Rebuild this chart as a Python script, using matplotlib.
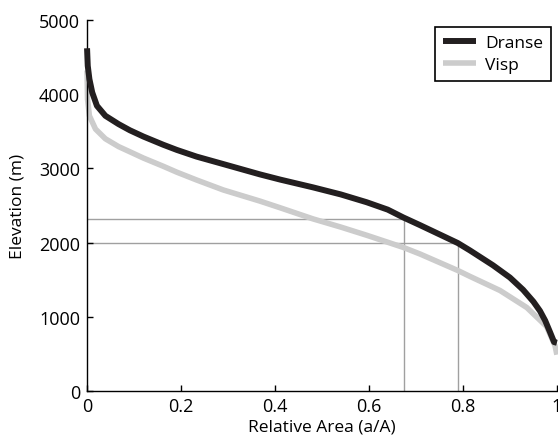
import numpy as np
import matplotlib.pyplot as plt

plt.rcParams['font.family'] = ['Open Sans', 'DejaVu Sans']

# hypsometric curves
area_dranse = [0.0, 0.0015, 0.005, 0.011, 0.021, 0.039, 0.067, 0.091, 0.12, 0.162,
               0.191, 0.233, 0.290, 0.368, 0.411, 0.481, 0.540, 0.595, 0.640,
               0.673, 0.709, 0.789, 0.815, 0.864, 0.900, 0.928, 0.950, 0.964,
               0.975, 0.985, 0.994, 1.0]
elev_dranse = [4620, 4384, 4205, 4025, 3845, 3710, 3598, 3515, 3430, 3320,
               3250, 3160, 3059, 2920, 2850, 2745, 2650, 2545, 2445,
               2340, 2235, 1995, 1895, 1695, 1530, 1365, 1205, 1080,
               950, 800, 660, 650]

area_visp = [0.0, 0.001, 0.005, 0.018, 0.039, 0.067, 0.091, 0.12, 0.162, 0.191,
             0.233, 0.290, 0.368, 0.411, 0.481, 0.540, 0.595, 0.673, 0.709,
             0.789, 0.815, 0.879, 0.936, 0.978, 0.996, 1.0]
elev_visp = [4320, 3935, 3710, 3531, 3400, 3295, 3225, 3140, 3030, 2950,
             2845, 2710, 2560, 2470, 2320, 2210, 2100, 1936, 1846,
             1625, 1545, 1355, 1125, 870, 611, 490]

# guide lines (area, elevation)
guide_area = [0.674, 0.789]
guide_elev = [2320, 2000]

fig = plt.figure(figsize=(5.58, 4.39), dpi=100)
ax = fig.add_axes([0.156, 0.107, 0.842, 0.845])

for a, e in zip(guide_area, guide_elev):
    ax.plot([0, a], [e, e], color='#a0a0a0', lw=1.0, zorder=1)
    ax.plot([a, a], [0, e], color='#a0a0a0', lw=1.0, zorder=1)

ax.plot(area_visp, elev_visp, color='#cccccc', lw=4.0, label='Visp',
        solid_capstyle='butt', solid_joinstyle='round', clip_on=False, zorder=2)
ax.plot(area_dranse, elev_dranse, color='#231f20', lw=4.3, label='Dranse',
        solid_capstyle='butt', solid_joinstyle='round', clip_on=False, zorder=3)

ax.set_xlim(0, 1)
ax.set_ylim(0, 5000)
ax.set_xticks([0, 0.2, 0.4, 0.6, 0.8, 1])
ax.set_xticklabels(['0', '0.2', '0.4', '0.6', '0.8', '1'])
ax.set_yticks([0, 1000, 2000, 3000, 4000, 5000])
ax.tick_params(direction='in', length=4, width=1, labelsize=13)
ax.tick_params(axis='x', pad=4)
ax.tick_params(axis='y', pad=5)
ax.spines['top'].set_visible(False)
ax.spines['right'].set_visible(False)
for s in ['left', 'bottom']:
    ax.spines[s].set_linewidth(1.0)

ax.set_xlabel('Relative Area (a/A)', fontsize=12.5)
ax.set_ylabel('Elevation (m)', fontsize=12.5)
ax.xaxis.set_label_coords(0.5, -0.095)
ax.yaxis.set_label_coords(-0.147, 0.5)
ax.xaxis.label.set_va('center')
ax.yaxis.label.set_va('center')

handles, labels = ax.get_legend_handles_labels()
leg = ax.legend(handles[::-1], labels[::-1], loc='upper right',
                bbox_to_anchor=(0.987, 0.981), fontsize=12.5, fancybox=False,
                edgecolor='black', framealpha=1, handlelength=1.9,
                borderpad=0.45, labelspacing=0.35, handletextpad=0.5,
                borderaxespad=0)
leg.get_frame().set_linewidth(1.2)

fig.savefig('out.png', dpi=100)
